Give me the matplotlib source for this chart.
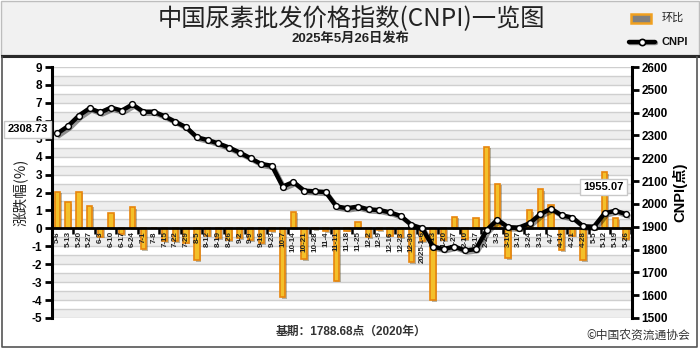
import numpy as np
import matplotlib
matplotlib.use("Agg")
import matplotlib.pyplot as plt
from matplotlib.patches import Rectangle
from matplotlib.lines import Line2D
import matplotlib.patheffects as pe

plt.rcParams['font.family'] = ['Liberation Sans', 'Noto Sans CJK SC', 'DejaVu Sans']

dates = ['5-6', '5-13', '5-20', '5-27', '6-3', '6-10', '6-17', '6-24', '7-1', '7-8',
         '7-15', '7-22', '7-29', '8-5', '8-12', '8-19', '8-26', '9-2', '9-9', '9-16',
         '9-23', '10-7', '10-14', '10-21', '10-28', '11-4', '11-11', '11-18', '11-25',
         '12-2', '12-9', '12-16', '12-23', '12-30', '2025-1-6', '1-13', '1-20', '1-27',
         '2-10', '2-17', '2-24', '3-3', '3-10', '3-17', '3-24', '3-31', '4-7', '4-14',
         '4-21', '4-28', '5-5', '5-12', '5-19', '5-26']

cnpi = [2308.73, 2341, 2387, 2419, 2401, 2422, 2409, 2436, 2404, 2404,
        2384, 2360, 2336, 2292, 2280, 2265, 2247, 2225, 2200, 2175,
        2167, 2076, 2096, 2058, 2055, 2052, 1989, 1981, 1988,
        1976, 1973, 1963, 1947, 1908, 1893, 1813, 1802, 1813,
        1796, 1802, 1885, 1931, 1898, 1896, 1915, 1955, 1979, 1950,
        1940, 1902, 1900, 1959, 1970, 1955.07]

change = [2.05, 1.47, 2.05, 1.27, -0.46, 0.88, -0.33, 1.19, -1.17, 0.0,
          -0.7, -0.7, -0.8, -1.76, -0.4, -0.55, -0.65, -0.55, -0.65, -0.84,
          -0.15, -3.85, 0.93, -1.7, -0.05, -0.15, -2.92, -0.13, 0.37,
          -0.5, -0.1, -0.4, -0.5, -1.9, -0.7, -4.0, -0.65, 0.65,
          -0.6, 0.6, 4.55, 2.5, -1.67, -0.1, 1.02, 2.19, 1.3, -1.2,
          -0.4, -1.77, -0.05, 3.12, 0.56, -0.6]

left_ticks = list(range(-5, 10))
right_ticks = list(range(1500, 2700, 100))

W, H = 700, 350
fig = plt.figure(figsize=(7, 3.5), dpi=100)
fig.patch.set_facecolor('white')

def fx(px):
    return px / W

def fy(py):
    return 1 - py / H

# header background
fig.patches.append(Rectangle((fx(1), fy(55)), fx(698), 54 / H, transform=fig.transFigure,
                             facecolor='#f1f1f1', edgecolor='#bdbdbd', lw=1, zorder=0))
fig.add_artist(Line2D([fx(2), fx(698)], [fy(56), fy(56)], transform=fig.transFigure,
                      color='#2a2a2a', lw=2.2))
# frame of chart region
fig.add_artist(Line2D([fx(2), fx(2), fx(697), fx(697)], [fy(57), fy(347), fy(347), fy(57)],
                      transform=fig.transFigure, color='#555555', lw=1.2))

fig.text(fx(351), fy(19), '中国尿素批发价格指数(CNPI)一览图', ha='center', va='center',
         fontsize=17.5, color='#222222', family=['Noto Sans CJK SC', 'DejaVu Sans'])
fig.text(fx(350), fy(39), '2025年5月26日发布', ha='center', va='center',
         fontsize=9.5, fontweight='bold', color='#222222',
         family=['Liberation Sans', 'Noto Sans CJK SC'])

# legend
fig.patches.append(Rectangle((fx(631), fy(23)), 20 / W, 9 / H, transform=fig.transFigure,
                             facecolor='#808080', edgecolor='#f0a020', lw=1.8))
fig.text(fx(662), fy(18), '环比', ha='left', va='center', fontsize=8, color='#222222',
         family=['Noto Sans CJK SC'])
fig.add_artist(Line2D([fx(629), fx(655)], [fy(42), fy(42)], transform=fig.transFigure,
                      color='black', lw=3.2, solid_capstyle='round',
                      path_effects=[pe.SimpleLineShadow(offset=(1, -1), alpha=0.4), pe.Normal()]))
fig.add_artist(Line2D([fx(642)], [fy(42)], transform=fig.transFigure, marker='o',
                      markersize=4.5, markerfacecolor='white', markeredgecolor='black',
                      markeredgewidth=1.2))
fig.text(fx(662), fy(42), 'CNPI', ha='left', va='center', fontsize=8, fontweight='bold',
         color='#111111')

ax = fig.add_axes([fx(52), fy(318), (632 - 52) / W, (318 - 67) / H])
ax2 = ax.twinx()

n = len(dates)
x = np.arange(n)

ax.set_ylim(-5, 9)
ax.set_xlim(-0.5, n - 0.45)
ax.set_axisbelow(False)
# bands
for k in np.arange(-5, 9, 1.0):
    ax.axhspan(k, k + 0.5, facecolor='#eeeeee', edgecolor='none', zorder=0)
for k in np.arange(-5, 9.01, 0.5):
    ax.axhline(k, color='#cfcfcf', lw=1.0, zorder=0.5)

ax.bar(x, change, width=0.5, facecolor='#f3c02a', edgecolor='#e8850c', lw=1.2, zorder=2,
       path_effects=[pe.SimplePatchShadow(offset=(1.2, -1.2), alpha=0.35), pe.Normal()])

ax.spines['top'].set_visible(False)
ax.spines['right'].set_visible(False)
ax.spines['bottom'].set_position(('data', 0))
ax.spines['bottom'].set_linewidth(2)
ax.spines['bottom'].set_zorder(3)
ax.spines['left'].set_linewidth(2.2)
ax.set_yticks(left_ticks)
ax.set_yticklabels([str(v) for v in left_ticks], fontsize=8.5, fontweight='bold')
ax.tick_params(axis='y', length=5, width=2, pad=2)
ax.set_xticks(x)
ax.set_xticklabels(dates, rotation=90, fontsize=5.8, fontweight='bold', color='#222222')
ax.tick_params(axis='x', which='major', length=0, pad=2)
ax.set_xticks(np.arange(1.5, n, 2), minor=True)
ax.tick_params(axis='x', which='minor', length=4, width=1.8, direction='out')
ax.set_ylabel('涨跌幅(%)', fontsize=10.5, family=['Noto Sans CJK SC', 'DejaVu Sans'],
              color='#222222', labelpad=3)
ax.set_zorder(1)
ax2.set_zorder(2)
ax.patch.set_visible(False)

ax2.set_ylim(1500, 2600)
ax2.plot(x, cnpi, color='black', lw=3.2, zorder=4, solid_joinstyle='round',
         path_effects=[pe.SimpleLineShadow(offset=(1.5, -1.5), alpha=0.4), pe.Normal()])
ax2.plot(x, cnpi, linestyle='none', marker='o', markersize=4.2, markerfacecolor='white',
         markeredgecolor='black', markeredgewidth=1.0, zorder=5)
for s in ['top', 'left', 'bottom']:
    ax2.spines[s].set_visible(False)
ax2.spines['right'].set_linewidth(2.2)
ax2.set_yticks(right_ticks)
ax2.set_yticklabels([str(v) for v in right_ticks], fontsize=8.5, fontweight='bold')
ax2.tick_params(axis='y', length=5, width=2, pad=2)
ax2.set_ylabel('CNPI(点)', fontsize=10.5, fontweight='bold', rotation=90, labelpad=3,
               family=['Liberation Sans', 'Noto Sans CJK SC'])

box = dict(boxstyle='square,pad=0.3', facecolor='white', edgecolor='#c8c8c8', lw=1)
ax2.annotate(f'{cnpi[0]:.2f}', xy=(0, cnpi[0]), xytext=(-30, 4), textcoords='offset pixels',
             ha='center', va='center', fontsize=8, fontweight='bold', bbox=box, zorder=6,
             annotation_clip=False)
ax2.annotate(f'{cnpi[-1]:.2f}', xy=(n - 1, cnpi[-1]), xytext=(-23, 27), textcoords='offset pixels',
             ha='center', va='center', fontsize=8, fontweight='bold', bbox=box, zorder=6)

fig.text(fx(351), fy(332), '基期：1788.68点（2020年）', ha='center', va='center', fontsize=8.5,
         fontweight='bold', color='#333333', family=['Liberation Sans', 'Noto Sans CJK SC'])
fig.text(fx(638), fy(335), '©中国农资流通协会', ha='center', va='center', fontsize=8.5,
         color='#333333', family=['Noto Sans CJK SC', 'DejaVu Sans'])

fig.savefig('out.png', dpi=100)
